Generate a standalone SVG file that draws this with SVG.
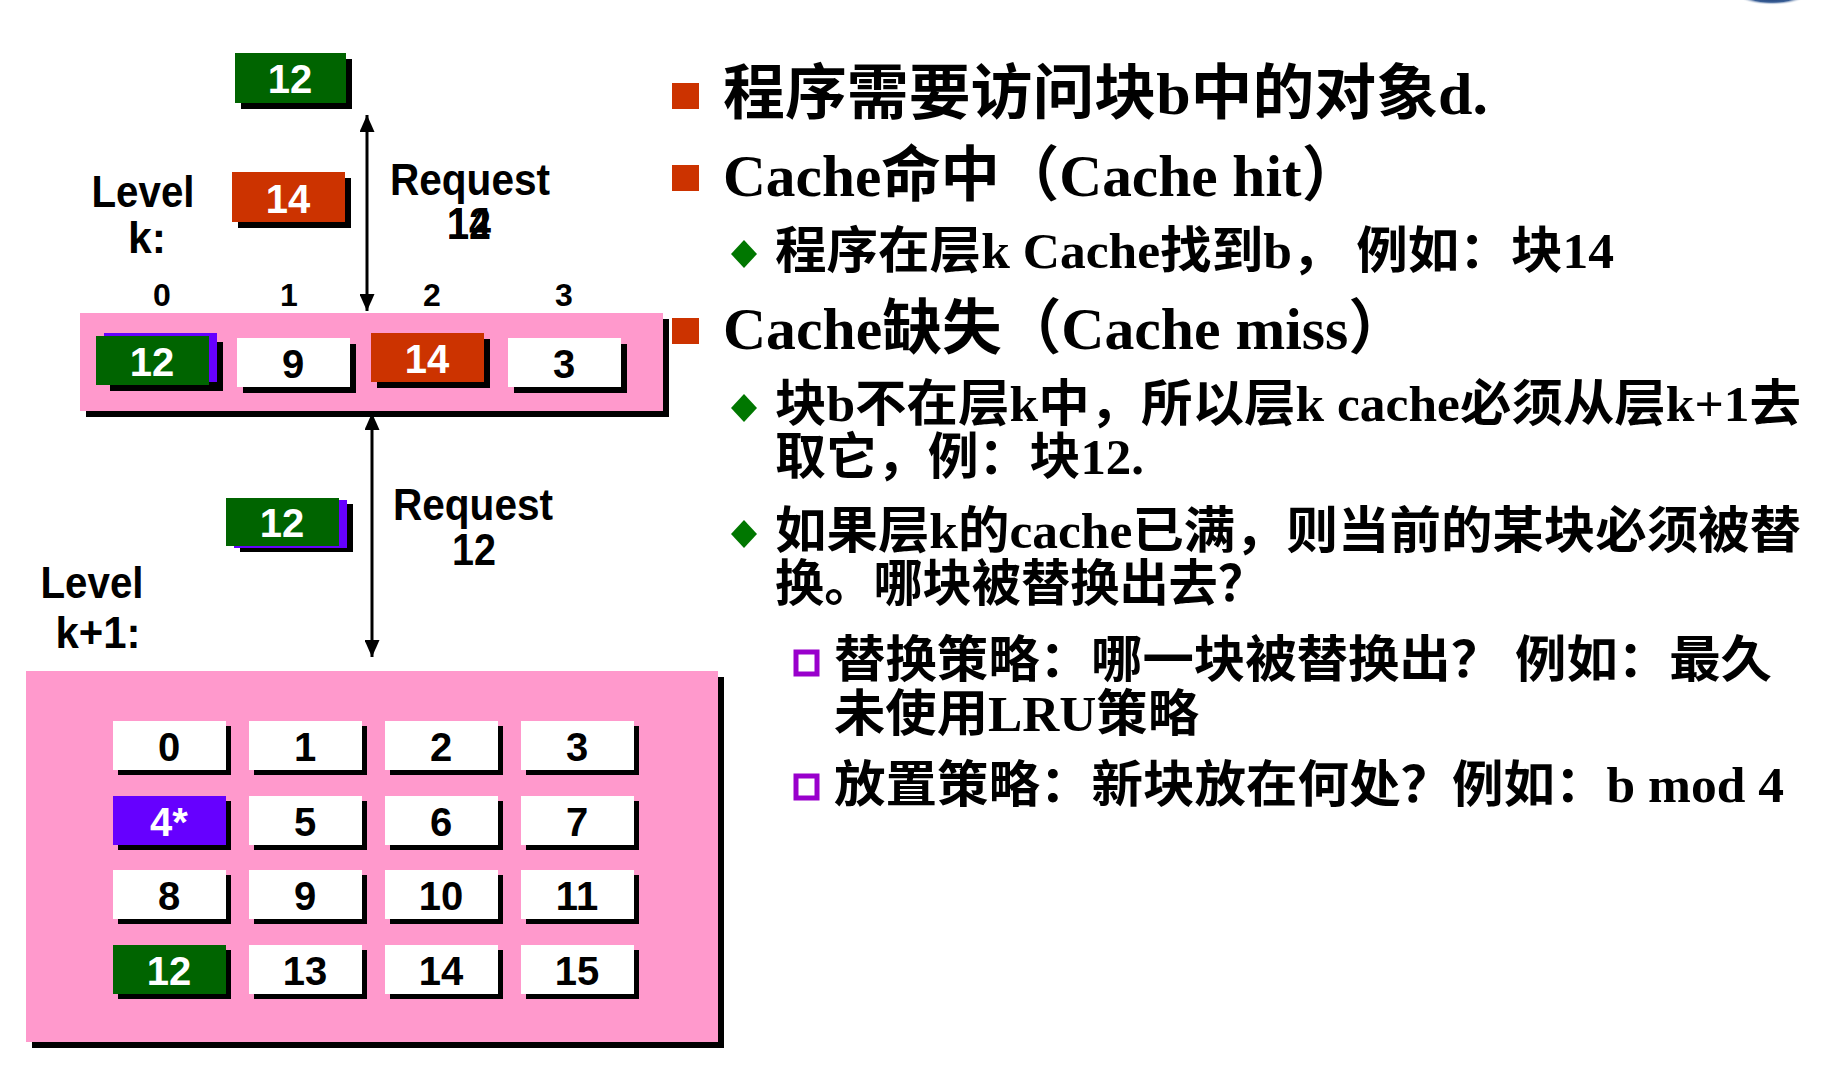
<svg xmlns="http://www.w3.org/2000/svg" width="1840" height="1066" viewBox="0 0 1840 1066">
  <style>
    .sh { fill: #000; }
    .pink { fill: #FF99CC; }
    .green { fill: #006400; }
    .red { fill: #CC3300; }
    .purple { fill: #6600FF; }
    .white { fill: #FFFFFF; }
    .lbl { font-family: "Liberation Sans", Arial, sans-serif; font-weight: bold; text-anchor: middle; }
    .bx { font-size: 40px; }
    .wt { fill: #FFFFFF; }
    .bk { fill: #000000; }
    .big { font-size: 44px; fill: #000; }
    .idx { font-size: 32px; fill: #000; }
    .txt { font-family: "Liberation Serif", "Noto Sans CJK SC", serif; font-weight: bold; fill: #000; }
    .h1 { font-size: 60px; }
    .h2 { font-size: 50px; }
    .conn { stroke: #000; stroke-width: 3; fill: none; }
  </style>
  <defs>
    <marker id="ah" viewBox="0 0 17 15" refX="17" refY="7.5" markerWidth="17" markerHeight="15" markerUnits="userSpaceOnUse" orient="auto-start-reverse">
      <path d="M0,0 L17,7.5 L0,15 z" fill="#000"/>
    </marker>
    <radialGradient id="blob" cx="0.5" cy="0.5" r="0.5">
      <stop offset="0" stop-color="#0b2a60"/>
      <stop offset="0.7" stop-color="#3a5f96"/>
      <stop offset="1" stop-color="#ffffff" stop-opacity="0"/>
    </radialGradient>
  </defs>

  <rect width="1840" height="1066" fill="#fff"/>
  <ellipse cx="1772" cy="-4" rx="34" ry="9" fill="url(#blob)"/>

  <!-- block 12 leaving toward the program -->
  <g id="out12">
    <rect class="sh" x="241" y="59" width="111" height="50"/>
    <rect class="green" x="235" y="53" width="111" height="50"/>
    <text class="lbl bx wt" x="290" y="93">12</text>
  </g>

  <!-- block 14 served from level k -->
  <g id="out14">
    <rect class="sh" x="238" y="178" width="113" height="50"/>
    <rect class="red" x="232" y="172" width="113" height="50"/>
    <text class="lbl bx wt" x="288" y="213">14</text>
  </g>

  <g id="levelk-label">
    <text class="lbl big" x="143" y="207" textLength="103" lengthAdjust="spacingAndGlyphs">Level</text>
    <text class="lbl big" x="147" y="253" textLength="38" lengthAdjust="spacingAndGlyphs">k:</text>
  </g>

  <g id="request-top">
    <text class="lbl big" x="470" y="195" font-size="42" textLength="160" lengthAdjust="spacingAndGlyphs">Request</text>
    <text class="lbl big" x="469" y="239" font-size="42" textLength="44" lengthAdjust="spacingAndGlyphs">12</text>
    <text class="lbl big" x="469" y="239" font-size="42" textLength="44" lengthAdjust="spacingAndGlyphs">14</text>
  </g>

  <g id="slot-index">
    <text class="lbl idx" x="162" y="306">0</text>
    <text class="lbl idx" x="289" y="306">1</text>
    <text class="lbl idx" x="432" y="306">2</text>
    <text class="lbl idx" x="564" y="306">3</text>
  </g>

  <!-- level k cache: 4 slots -->
  <g id="levelk">
    <rect class="sh" x="86" y="319" width="583" height="98"/>
    <rect class="pink" x="80" y="313" width="583" height="98"/>
    <g id="k-slot0">
      <rect class="sh" x="110" y="342" width="113" height="49"/>
      <rect class="purple" x="104" y="333" width="113" height="49"/>
      <rect class="green" x="96" y="336" width="113" height="49"/>
      <text class="lbl bx wt" x="152" y="376">12</text>
    </g>
    <g id="k-slot1">
      <rect class="sh" x="243" y="344" width="113" height="49"/>
      <rect class="white" x="237" y="338" width="113" height="49"/>
      <text class="lbl bx bk" x="293" y="378">9</text>
    </g>
    <g id="k-slot2">
      <rect class="sh" x="377" y="339" width="113" height="49"/>
      <rect class="red" x="371" y="333" width="113" height="49"/>
      <text class="lbl bx wt" x="427" y="373">14</text>
    </g>
    <g id="k-slot3">
      <rect class="sh" x="514" y="344" width="113" height="49"/>
      <rect class="white" x="508" y="338" width="113" height="49"/>
      <text class="lbl bx bk" x="564" y="378">3</text>
    </g>
  </g>

  <!-- block 12 moving up from level k+1 -->
  <g id="move12">
    <rect class="sh" x="240" y="504" width="113" height="48"/>
    <rect class="purple" x="234" y="500" width="113" height="48"/>
    <rect class="green" x="226" y="498" width="113" height="48"/>
    <text class="lbl bx wt" x="282" y="537">12</text>
  </g>

  <g id="request-bottom">
    <text class="lbl big" x="473" y="520" font-size="42" textLength="160" lengthAdjust="spacingAndGlyphs">Request</text>
    <text class="lbl big" x="474" y="565" font-size="42" textLength="44" lengthAdjust="spacingAndGlyphs">12</text>
  </g>

  <g id="levelk1-label">
    <text class="lbl big" x="92" y="598" textLength="103" lengthAdjust="spacingAndGlyphs">Level</text>
    <text class="lbl big" x="98" y="648" textLength="85" lengthAdjust="spacingAndGlyphs">k+1:</text>
  </g>

  <!-- level k+1 memory: 16 blocks -->
  <g id="levelk1">
    <rect class="sh" x="32" y="677" width="692" height="371"/>
    <rect class="pink" x="26" y="671" width="692" height="371"/>
    <g id="blk0"><rect class="sh" x="118" y="726" width="113" height="49"/><rect class="white" x="113" y="721" width="113" height="49"/><text class="lbl bx bk" x="169" y="761">0</text></g>
    <g id="blk1"><rect class="sh" x="254" y="726" width="113" height="49"/><rect class="white" x="249" y="721" width="113" height="49"/><text class="lbl bx bk" x="305" y="761">1</text></g>
    <g id="blk2"><rect class="sh" x="390" y="726" width="113" height="49"/><rect class="white" x="385" y="721" width="113" height="49"/><text class="lbl bx bk" x="441" y="761">2</text></g>
    <g id="blk3"><rect class="sh" x="526" y="726" width="113" height="49"/><rect class="white" x="521" y="721" width="113" height="49"/><text class="lbl bx bk" x="577" y="761">3</text></g>

    <g id="blk4"><rect class="sh" x="118" y="801" width="113" height="49"/><rect class="purple" x="113" y="796" width="113" height="49"/><text class="lbl bx wt" x="169" y="836">4*</text></g>
    <g id="blk5"><rect class="sh" x="254" y="801" width="113" height="49"/><rect class="white" x="249" y="796" width="113" height="49"/><text class="lbl bx bk" x="305" y="836">5</text></g>
    <g id="blk6"><rect class="sh" x="390" y="801" width="113" height="49"/><rect class="white" x="385" y="796" width="113" height="49"/><text class="lbl bx bk" x="441" y="836">6</text></g>
    <g id="blk7"><rect class="sh" x="526" y="801" width="113" height="49"/><rect class="white" x="521" y="796" width="113" height="49"/><text class="lbl bx bk" x="577" y="836">7</text></g>

    <g id="blk8"><rect class="sh" x="118" y="875" width="113" height="49"/><rect class="white" x="113" y="870" width="113" height="49"/><text class="lbl bx bk" x="169" y="910">8</text></g>
    <g id="blk9"><rect class="sh" x="254" y="875" width="113" height="49"/><rect class="white" x="249" y="870" width="113" height="49"/><text class="lbl bx bk" x="305" y="910">9</text></g>
    <g id="blk10"><rect class="sh" x="390" y="875" width="113" height="49"/><rect class="white" x="385" y="870" width="113" height="49"/><text class="lbl bx bk" x="441" y="910">10</text></g>
    <g id="blk11"><rect class="sh" x="526" y="875" width="113" height="49"/><rect class="white" x="521" y="870" width="113" height="49"/><text class="lbl bx bk" x="577" y="910">11</text></g>

    <g id="blk12"><rect class="sh" x="118" y="950" width="113" height="49"/><rect class="green" x="113" y="945" width="113" height="49"/><text class="lbl bx wt" x="169" y="985">12</text></g>
    <g id="blk13"><rect class="sh" x="254" y="950" width="113" height="49"/><rect class="white" x="249" y="945" width="113" height="49"/><text class="lbl bx bk" x="305" y="985">13</text></g>
    <g id="blk14"><rect class="sh" x="390" y="950" width="113" height="49"/><rect class="white" x="385" y="945" width="113" height="49"/><text class="lbl bx bk" x="441" y="985">14</text></g>
    <g id="blk15"><rect class="sh" x="526" y="950" width="113" height="49"/><rect class="white" x="521" y="945" width="113" height="49"/><text class="lbl bx bk" x="577" y="985">15</text></g>
  </g>

  <!-- request / transfer arrows -->
  <g id="connectors">
    <line class="conn" x1="367" y1="115" x2="367" y2="311" marker-start="url(#ah)" marker-end="url(#ah)"/>
    <line class="conn" x1="372" y1="413" x2="372" y2="657" marker-start="url(#ah)" marker-end="url(#ah)"/>
  </g>

  <!-- explanation list -->
  <g id="notes">
    <rect x="672" y="83" width="27" height="26" fill="#CC3300"/>
    <text class="txt h1" x="723" y="114" textLength="765" lengthAdjust="spacingAndGlyphs">程序需要访问块b中的对象d.</text>

    <rect x="672" y="165" width="27" height="26" fill="#CC3300"/>
    <text class="txt h1" x="723" y="196" textLength="638" lengthAdjust="spacingAndGlyphs">Cache命中（Cache hit）</text>

    <path d="M744,240 L757,254 L744,268 L731,254 z" fill="#007700"/>
    <text class="txt h2" x="775" y="268" textLength="839" lengthAdjust="spacingAndGlyphs">程序在层k Cache找到b， 例如：块14</text>

    <rect x="672" y="318" width="27" height="26" fill="#CC3300"/>
    <text class="txt h1" x="723" y="349" textLength="685" lengthAdjust="spacingAndGlyphs">Cache缺失（Cache miss）</text>

    <path d="M744,394 L757,408 L744,422 L731,408 z" fill="#007700"/>
    <text class="txt h2" x="775" y="421" textLength="1026" lengthAdjust="spacingAndGlyphs">块b不在层k中，所以层k cache必须从层k+1去</text>
    <text class="txt h2" x="775" y="474" textLength="369" lengthAdjust="spacingAndGlyphs">取它，例：块12.</text>

    <path d="M744,520 L757,534 L744,548 L731,534 z" fill="#007700"/>
    <text class="txt h2" x="775" y="548" textLength="1026" lengthAdjust="spacingAndGlyphs">如果层k的cache已满，则当前的某块必须被替</text>
    <text class="txt h2" x="775" y="601" textLength="492" lengthAdjust="spacingAndGlyphs">换。哪块被替换出去？</text>

    <rect x="796" y="652" width="21" height="22" fill="none" stroke="#9900CC" stroke-width="5"/>
    <text class="txt h2" x="834" y="677" textLength="938" lengthAdjust="spacingAndGlyphs">替换策略：哪一块被替换出？ 例如：最久</text>
    <text class="txt h2" x="834" y="731" textLength="365" lengthAdjust="spacingAndGlyphs">未使用LRU策略</text>

    <rect x="796" y="776" width="21" height="22" fill="none" stroke="#9900CC" stroke-width="5"/>
    <text class="txt h2" x="834" y="802" textLength="950" lengthAdjust="spacingAndGlyphs">放置策略：新块放在何处？例如：b mod 4</text>
  </g>
</svg>
